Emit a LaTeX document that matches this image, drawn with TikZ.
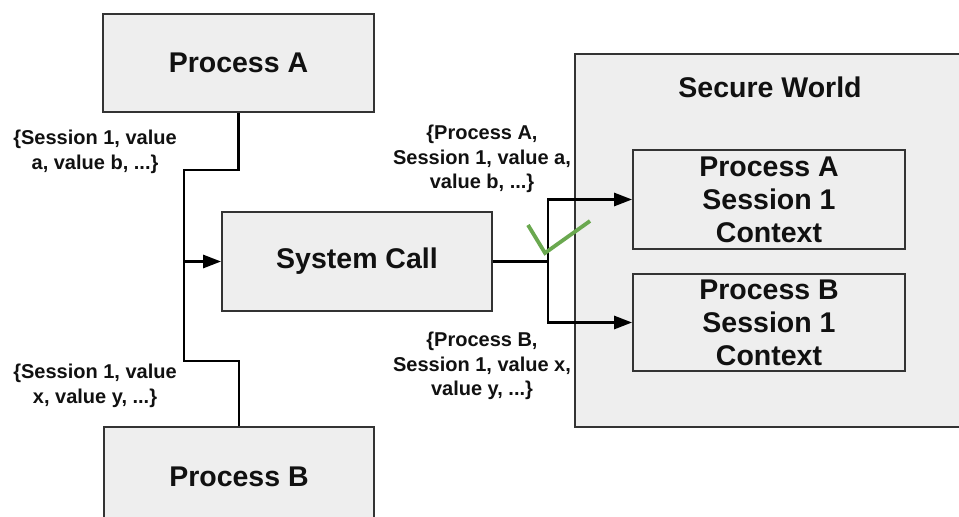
\documentclass[tikz,border=0pt]{standalone}
\usepackage{fontspec}
\setmainfont{Liberation Sans}
\usetikzlibrary{arrows.meta}

\definecolor{boxfill}{HTML}{EEEEEE}
\definecolor{boxline}{HTML}{333333}
\definecolor{inktext}{HTML}{111111}
\definecolor{tickgreen}{HTML}{6AA84F}

\tikzset{
  procbox/.style={draw=boxline, line width=1.8pt, fill=boxfill, inner sep=0pt,
    text=inktext, font=\fontsize{28.5}{33}\selectfont\bfseries, align=center},
  tagtext/.style={inner sep=0pt, text=inktext, align=center,
    font=\fontsize{20}{24.5}\selectfont\bfseries},
  wire/.style={draw=black, line width=2.8pt},
  flow/.style={wire, -{Triangle[length=18pt,width=13pt]}},
}

\begin{document}
\begin{tikzpicture}[x=1pt,y=-1pt]
  \useasboundingbox (0,0) rectangle (959,517);
  \begin{scope}
    \clip (0,0) rectangle (959,517);

    % secure world container (runs past the right edge)
    \node[procbox, minimum width=410pt, minimum height=373pt] (sw) at (780,240.5) {};
    \node[procbox, draw=none, fill=none] (swt) at (770,87) {Secure World};

    % user-space processes
    \node[procbox, minimum width=271pt, minimum height=98pt] (pa) at (238.5,63) {Process A};
    \node[procbox, minimum width=270pt, minimum height=100pt] (pb) at (239,477) {Process B};

    % kernel entry
    \node[procbox, minimum width=270pt, minimum height=99pt] (sc) at (357,261.5) {System Call};

    % per-session contexts inside the secure world
    \node[procbox, minimum width=272pt, minimum height=99pt] (ca) at (769,199.5)
      {Process A\\Session 1\\Context};
    \node[procbox, minimum width=272pt, minimum height=97pt] (cb) at (769,322.5)
      {Process B\\Session 1\\Context};

    % shared bus from both processes into the system call
    \coordinate (busTop) at (184,170);
    \coordinate (busBot) at (184,361);
    \draw[wire] (pa.south) |- (busTop) -- (busBot) -| (pb.north);
    \draw[flow] (busTop |- sc.west) -- (sc.west);

    % dispatch from the system call to the contexts
    \coordinate (fork) at (548,261.5);
    \draw[wire] (sc.east) -- (fork);
    \draw[flow] (fork) |- (ca.west);
    \draw[flow] (fork) |- (cb.west);

    % check mark at the fork
    \coordinate (tickA) at (528,225);
    \coordinate (tickB) at (545,253);
    \coordinate (tickC) at (590,221);
    \draw[tickgreen, line width=3.8pt] (tickA) -- (tickB) -- (tickC);

    % message tuples
    \node[tagtext] (ta) at (95,152) {\{Session 1, value\\a, value b, ...\}};
    \node[tagtext] (tb) at (95,386) {\{Session 1, value\\x, value y, ...\}};
    \node[tagtext] (tc) at (482,159) {\{Process A,\\Session 1, value a,\\value b, ...\}};
    \node[tagtext] (td) at (482,366) {\{Process B,\\Session 1, value x,\\value y, ...\}};
  \end{scope}
\end{tikzpicture}
\end{document}
